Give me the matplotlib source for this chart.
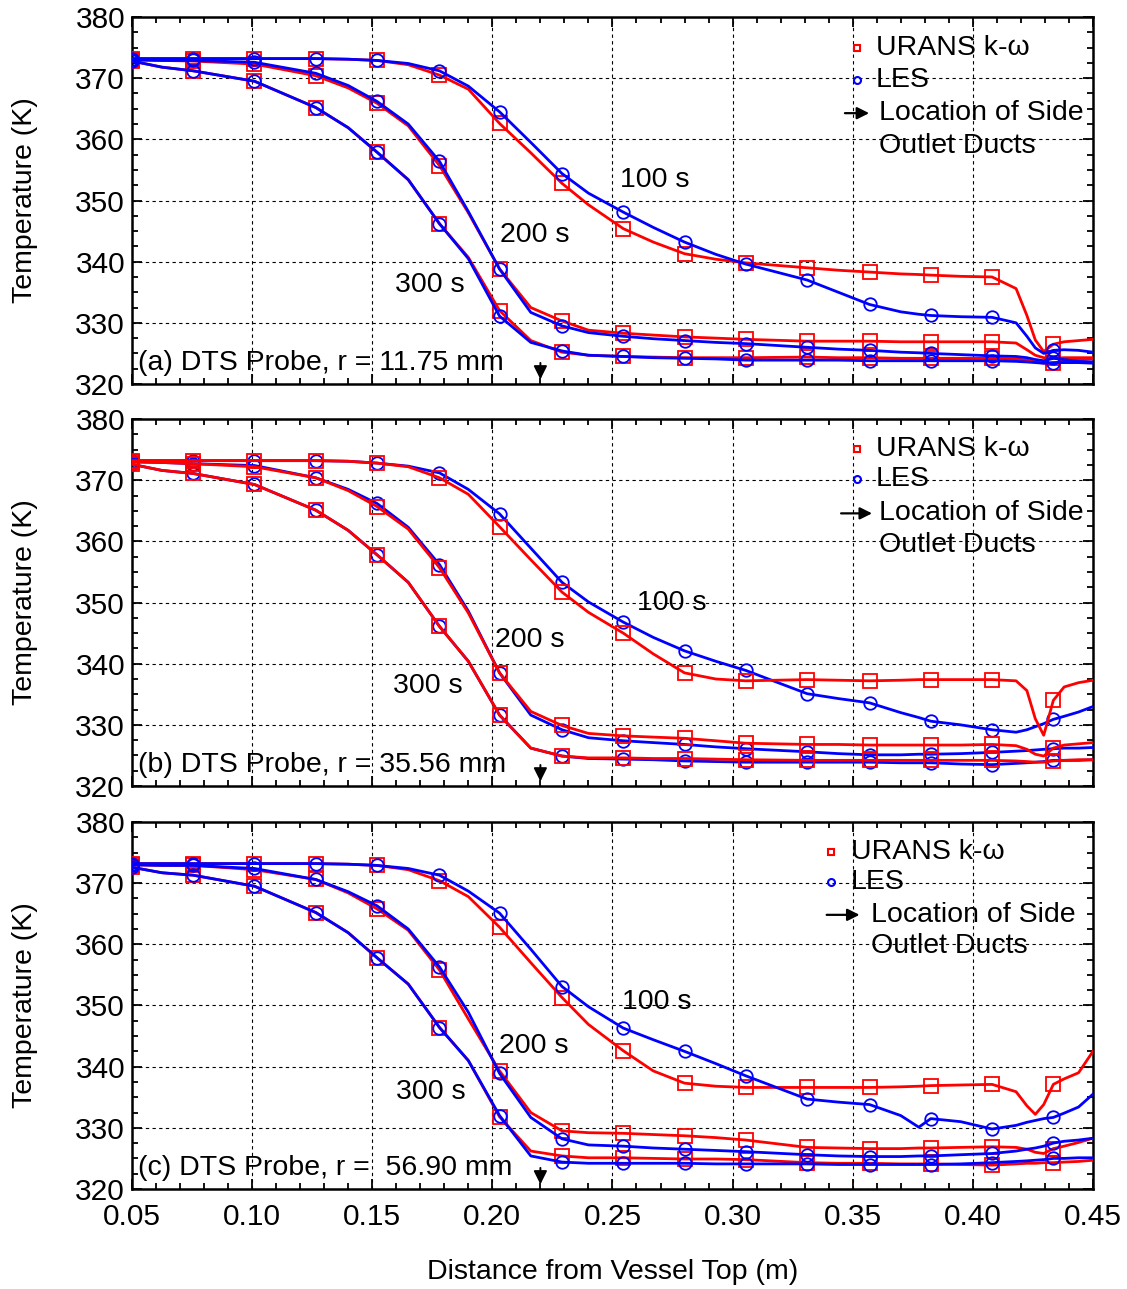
import matplotlib
matplotlib.use('Agg')
import matplotlib.pyplot as plt
import numpy as np
from matplotlib.ticker import MultipleLocator

plt.rcParams['font.family'] = ['Liberation Sans', 'DejaVu Sans']
plt.rcParams['font.size'] = 20

# distance from vessel top (m), line samples and marker stations
x = [0.05, 0.0625, 0.0755, 0.101, 0.1265, 0.14, 0.152, 0.165, 0.178, 0.19,
     0.203, 0.216, 0.229, 0.24, 0.2545, 0.267, 0.280, 0.293, 0.3055, 0.331,
     0.344, 0.357, 0.37, 0.3775, 0.3825, 0.395, 0.408, 0.418, 0.4225, 0.426,
     0.4295, 0.4335, 0.438, 0.444, 0.45]
x_mark = [0.05, 0.0755, 0.101, 0.1265, 0.152, 0.178, 0.203, 0.229, 0.2545,
          0.280, 0.3055, 0.331, 0.357, 0.3825, 0.408, 0.4335]

# (a) r = 11.75 mm
a_urans_100 = [373.2, 373.2, 373.2, 373.2, 373.2, 373.1, 372.9, 372.2, 370.5, 368.2, 362.6, 357.8, 352.8, 349.3, 345.4, 343.2, 341.3, 340.4, 339.8, 339.0, 338.6, 338.3, 338.0, 337.9, 337.8, 337.6, 337.5, 335.6, 331.2, 327.2, 325.3, 326.5, 326.9, 327.1, 327.3]
a_les_100 = [373.2, 373.2, 373.2, 373.2, 373.2, 373.1, 372.9, 372.4, 371.2, 368.7, 364.5, 359.5, 354.4, 351.2, 348.1, 345.6, 343.2, 341.2, 339.6, 337.0, 335.0, 333.0, 331.8, 331.4, 331.2, 331.0, 330.9, 330.0, 327.8, 325.9, 325.0, 325.5, 325.6, 325.5, 325.2]
a_urans_200 = [373.0, 372.9, 372.8, 372.3, 370.4, 368.4, 365.9, 362.2, 355.7, 348.0, 338.8, 332.5, 330.3, 328.8, 328.3, 328.0, 327.7, 327.5, 327.3, 327.0, 327.0, 327.0, 326.9, 326.9, 326.9, 326.9, 326.9, 326.7, 325.6, 324.7, 324.3, 324.2, 324.3, 324.3, 324.3]
a_les_200 = [373.0, 372.9, 372.9, 372.6, 370.8, 368.8, 366.2, 362.5, 356.4, 348.2, 338.8, 331.7, 329.5, 328.4, 327.8, 327.4, 327.1, 326.8, 326.6, 326.0, 325.7, 325.5, 325.2, 325.1, 325.0, 324.8, 324.6, 324.5, 324.3, 324.0, 323.8, 324.2, 324.0, 323.7, 323.6]
a_urans_300 = [372.8, 371.8, 371.2, 369.5, 365.2, 361.9, 357.9, 353.4, 346.2, 340.7, 332.0, 327.1, 325.2, 324.7, 324.5, 324.4, 324.3, 324.3, 324.3, 324.4, 324.3, 324.3, 324.2, 324.2, 324.2, 324.2, 324.2, 324.1, 323.9, 323.6, 323.4, 323.4, 323.8, 324.0, 324.1]
a_les_300 = [372.8, 371.8, 371.2, 369.5, 365.2, 361.9, 357.9, 353.4, 346.2, 340.5, 331.1, 326.8, 325.4, 324.7, 324.5, 324.3, 324.2, 324.1, 323.9, 323.9, 323.9, 323.8, 323.8, 323.8, 323.8, 323.8, 323.8, 323.7, 323.6, 323.5, 323.4, 323.5, 323.5, 323.5, 323.4]

# (b) r = 35.56 mm
b_urans_100 = [373.2, 373.2, 373.2, 373.2, 373.2, 373.1, 372.8, 372.2, 370.4, 367.7, 362.4, 357.0, 351.7, 348.4, 345.0, 341.6, 338.5, 337.5, 337.2, 337.4, 337.3, 337.2, 337.3, 337.4, 337.4, 337.4, 337.4, 337.2, 335.6, 331.0, 328.3, 334.0, 336.2, 336.9, 337.3]
b_les_100 = [373.2, 373.2, 373.2, 373.2, 373.2, 373.1, 372.8, 372.3, 371.2, 368.5, 364.5, 358.9, 353.3, 350.1, 346.8, 344.3, 342.1, 340.4, 338.9, 335.1, 334.3, 333.6, 332.0, 331.2, 330.6, 330.0, 329.2, 328.8, 329.2, 329.7, 330.2, 330.9, 331.4, 332.1, 333.0]
b_urans_200 = [373.0, 372.9, 372.7, 372.2, 370.4, 368.3, 365.7, 362.0, 355.7, 348.3, 338.5, 332.2, 329.9, 328.6, 328.2, 328.0, 327.8, 327.4, 327.0, 326.8, 326.8, 326.7, 326.7, 326.7, 326.7, 326.7, 326.8, 326.6, 326.0, 325.2, 324.9, 326.2, 326.7, 326.9, 327.1]
b_les_200 = [373.0, 372.9, 372.7, 372.4, 370.4, 368.5, 366.2, 362.3, 356.2, 348.6, 338.5, 331.6, 329.2, 327.9, 327.4, 327.1, 326.8, 326.4, 326.1, 325.6, 325.3, 325.1, 325.1, 325.2, 325.2, 325.3, 325.5, 325.7, 325.8, 325.9, 326.0, 326.1, 326.2, 326.2, 326.3]
b_urans_300 = [372.6, 371.6, 371.1, 369.3, 365.1, 361.8, 357.8, 353.3, 346.1, 340.4, 331.6, 326.2, 324.9, 324.6, 324.6, 324.5, 324.5, 324.4, 324.3, 324.2, 324.2, 324.2, 324.2, 324.2, 324.2, 324.2, 324.2, 324.1, 324.0, 323.9, 323.9, 324.1, 324.2, 324.3, 324.3]
b_les_300 = [372.6, 371.6, 371.1, 369.3, 365.1, 361.8, 357.8, 353.3, 346.1, 340.4, 331.6, 326.2, 324.9, 324.5, 324.4, 324.3, 324.1, 324.0, 323.9, 323.9, 323.9, 323.9, 323.8, 323.8, 323.8, 323.6, 323.5, 323.7, 323.8, 323.9, 324.0, 324.2, 324.2, 324.2, 324.3]

# (c) r = 56.90 mm
c_urans_100 = [373.2, 373.2, 373.2, 373.2, 373.2, 373.1, 372.9, 372.2, 370.4, 367.8, 362.8, 357.0, 351.3, 346.9, 342.6, 339.3, 337.3, 336.8, 336.6, 336.6, 336.6, 336.6, 336.7, 336.8, 336.9, 337.0, 337.1, 335.9, 333.6, 332.2, 333.8, 337.1, 338.0, 339.0, 342.5]
c_les_100 = [373.2, 373.2, 373.2, 373.2, 373.2, 373.1, 372.9, 372.4, 371.3, 368.7, 365.1, 359.2, 353.1, 349.8, 346.3, 344.4, 342.5, 340.5, 338.5, 334.7, 334.2, 333.8, 332.0, 330.1, 331.5, 331.0, 329.8, 330.4, 330.9, 331.2, 331.5, 331.7, 332.4, 333.4, 335.5]
c_urans_200 = [373.0, 372.9, 372.9, 372.2, 370.6, 368.4, 365.8, 362.3, 355.8, 347.8, 339.3, 332.5, 329.5, 329.2, 329.1, 328.9, 328.7, 328.4, 328.0, 326.8, 326.7, 326.6, 326.6, 326.7, 326.7, 326.8, 326.9, 326.8, 326.5, 326.0, 325.8, 326.6, 327.0, 327.6, 328.3]
c_les_200 = [373.0, 372.9, 372.9, 372.4, 370.6, 368.6, 366.3, 362.5, 356.3, 348.9, 338.9, 331.7, 328.2, 327.2, 327.0, 326.7, 326.5, 326.3, 326.1, 325.6, 325.4, 325.3, 325.3, 325.4, 325.4, 325.6, 325.8, 326.2, 326.5, 326.7, 327.0, 327.5, 327.8, 328.0, 328.3]
c_urans_300 = [372.6, 371.7, 371.3, 369.5, 365.2, 361.9, 357.8, 353.5, 346.4, 341.0, 331.8, 326.2, 325.4, 325.1, 325.1, 325.0, 324.9, 324.9, 324.8, 324.3, 324.2, 324.2, 324.1, 324.1, 324.1, 324.0, 323.9, 324.1, 324.2, 324.2, 324.3, 324.3, 324.4, 324.5, 324.7]
c_les_300 = [372.6, 371.7, 371.3, 369.5, 365.2, 361.9, 357.8, 353.5, 346.4, 341.0, 332.0, 325.4, 324.4, 324.2, 324.2, 324.2, 324.2, 324.1, 324.1, 324.1, 324.0, 324.0, 324.0, 324.0, 324.0, 324.1, 324.3, 324.5, 324.6, 324.7, 324.8, 325.0, 325.0, 325.1, 325.1]

panel_titles = ['(a) DTS Probe, r = 11.75 mm', '(b) DTS Probe, r = 35.56 mm',
                '(c) DTS Probe, r =  56.90 mm']
time_labels = ['100 s', '200 s', '300 s']
outlet_x = 0.22

urans = [[a_urans_100, a_urans_200, a_urans_300],
         [b_urans_100, b_urans_200, b_urans_300],
         [c_urans_100, c_urans_200, c_urans_300]]
les = [[a_les_100, a_les_200, a_les_300],
       [b_les_100, b_les_200, b_les_300],
       [c_les_100, c_les_200, c_les_300]]

# label placement (data coords) and legend placement (axes fraction)
label_pos = [[(0.2531, 353.3), (0.2032, 344.4), (0.1595, 336.2)],
             [(0.2602, 350.0), (0.2011, 343.9), (0.1586, 336.4)],
             [(0.2540, 350.6), (0.2028, 343.4), (0.1599, 335.9)]]
legend_x = [(0.754, 0.774, 0.739, 0.770, 0.777),
            (0.754, 0.774, 0.735, 0.773, 0.777),
            (0.727, 0.748, 0.720, 0.760, 0.769)]
legend_y = [(0.916, 0.828, 0.738, 0.648),
            (0.918, 0.836, 0.743, 0.656),
            (0.918, 0.837, 0.747, 0.662)]
red_on_top = [False, True, False]

mark_idx = [x.index(v) for v in x_mark]

fig = plt.figure(figsize=(11.27, 12.89), dpi=100)
ax_left, ax_w, ax_h = 0.1171, 0.8527, 0.2847
bottoms = [0.7021, 0.3902, 0.0776]

for i in range(3):
    ax = fig.add_axes([ax_left, bottoms[i], ax_w, ax_h])
    zu, zl = (4, 3) if red_on_top[i] else (3, 4)
    for k in range(3):
        ax.plot(x, urans[i][k], '-', color='red', lw=2.0, marker='s',
                markevery=mark_idx, ms=9.5, mfc='none', mec='red', mew=1.3,
                zorder=zu)
        ax.plot(x, les[i][k], '-', color='blue', lw=2.0, marker='o',
                markevery=mark_idx, ms=9, mfc='none', mec='blue', mew=1.3,
                zorder=zl)
        tx, ty = label_pos[i][k]
        ax.text(tx, ty, time_labels[k], ha='left', va='center', fontsize=20.5,
                zorder=5)

    ax.annotate('', xy=(outlet_x, 320.3), xytext=(outlet_x, 323.9),
                arrowprops=dict(arrowstyle='-|>', color='k', lw=1.4,
                                mutation_scale=20), zorder=6)

    ax.text(0.006, 0.057, panel_titles[i], transform=ax.transAxes,
            ha='left', va='center', fontsize=20.5, zorder=6)

    # legend drawn by hand
    mxp, tx1, ax0, ax1, tx2 = legend_x[i]
    y1, y2, y3, y4 = legend_y[i]
    ax.plot([mxp], [y1], 's', transform=ax.transAxes, ms=5, mfc='none',
            mec='red', mew=1.5, clip_on=False, zorder=6)
    ax.plot([mxp], [y2], 'o', transform=ax.transAxes, ms=5, mfc='none',
            mec='blue', mew=1.5, clip_on=False, zorder=6)
    ax.text(tx1, y1, 'URANS k-ω', transform=ax.transAxes, ha='left',
            va='center', fontsize=20.5)
    ax.text(tx1, y2, 'LES', transform=ax.transAxes, ha='left', va='center',
            fontsize=20.5)
    ax.annotate('', xy=(ax1, y3), xytext=(ax0, y3), xycoords='axes fraction',
                textcoords='axes fraction',
                arrowprops=dict(arrowstyle='-|>', color='k', lw=1.6,
                                mutation_scale=18))
    ax.text(tx2, y3, 'Location of Side', transform=ax.transAxes, ha='left',
            va='center', fontsize=20.5)
    ax.text(tx2, y4, 'Outlet Ducts', transform=ax.transAxes, ha='left',
            va='center', fontsize=20.5)

    ax.set_xlim(0.05, 0.45)
    ax.set_ylim(320, 380)
    ax.xaxis.set_major_locator(MultipleLocator(0.05))
    ax.xaxis.set_minor_locator(MultipleLocator(0.01))
    ax.yaxis.set_major_locator(MultipleLocator(10))
    ax.yaxis.set_minor_locator(MultipleLocator(2.5))
    ax.tick_params(which='both', direction='in', top=True, right=True,
                   labelsize=21.5, width=1.3)
    ax.tick_params(which='major', length=7)
    ax.tick_params(axis='y', which='major', pad=5)
    ax.tick_params(axis='x', which='major', pad=10)
    ax.tick_params(which='minor', length=4)
    ax.grid(True, which='major', color='k', ls=(0, (3, 3)), lw=0.8)
    for s in ax.spines.values():
        s.set_linewidth(1.8)
    ax.set_ylabel('Temperature (K)', fontsize=20.5)
    ax.yaxis.set_label_coords(-0.098, 0.5)
    if i < 2:
        ax.tick_params(labelbottom=False)
    else:
        ax.xaxis.set_major_formatter(plt.FuncFormatter(lambda v, p: '%.2f' % v))
        ax.set_xlabel('Distance from Vessel Top (m)', fontsize=20.5, labelpad=20)

fig.savefig('out.png', dpi=100)
